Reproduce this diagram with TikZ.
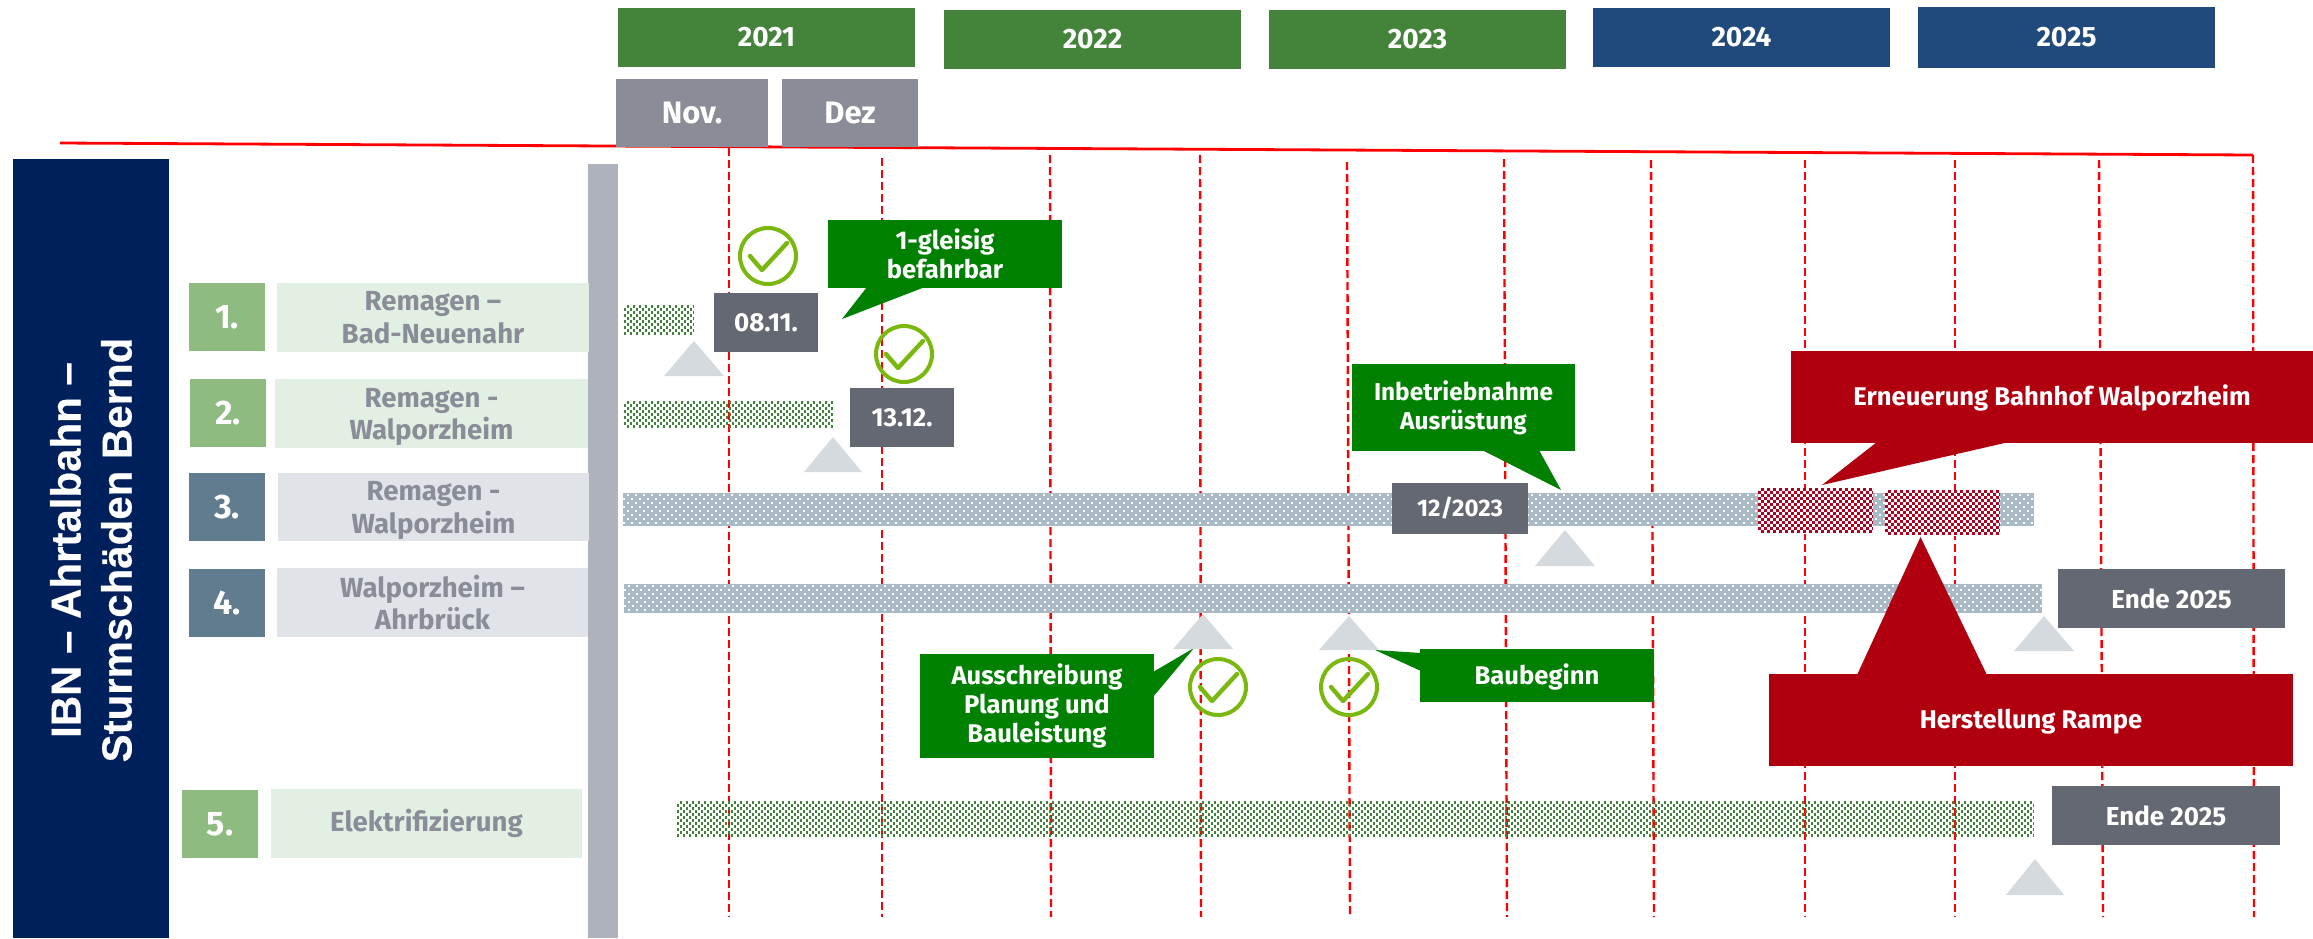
\documentclass[tikz,border=0pt]{standalone}
\usepackage{fontspec}
\setmainfont{Fira Sans}
\newfontfamily\titlefont[BoldFeatures={FakeBold=0.4}]{Liberation Sans}
\definecolor{yeargreen}{HTML}{43843A}
\definecolor{yearblue}{HTML}{20497C}
\definecolor{monthgray}{HTML}{8A8D98}
\definecolor{dategray}{HTML}{646872}
\definecolor{titleblue}{HTML}{00205C}
\definecolor{axisgray}{HTML}{AEB3BB}
\definecolor{numgreen}{HTML}{8DBB80}
\definecolor{labgreen}{HTML}{E2F0E4}
\definecolor{numblue}{HTML}{617C8F}
\definecolor{labgray}{HTML}{E0E4E8}
\definecolor{callgreen}{HTML}{008000}
\definecolor{callred}{HTML}{B00010}
\definecolor{trigray}{HTML}{D5DADF}
\definecolor{bargray}{HTML}{A9B9C5}
\definecolor{barred}{HTML}{B00020}
\definecolor{bargreen}{HTML}{3F8338}
\definecolor{checkgreen}{HTML}{7AB80F}
\tikzset{
  x=0.5pt,y=-0.5pt,
  plain/.style={rectangle,inner sep=0pt,outer sep=0pt,align=center,text=white,font=\bfseries},
  yeargr/.style={plain,fill=yeargreen,font=\fontsize{14}{16}\selectfont\bfseries},
  yearbl/.style={plain,fill=yearblue,font=\fontsize{14}{16}\selectfont\bfseries},
  monthbox/.style={plain,fill=monthgray,font=\fontsize{15.5}{18}\selectfont\bfseries},
  datebox/.style={plain,fill=dategray,font=\fontsize{13}{15}\selectfont\bfseries},
  numgr/.style={plain,fill=numgreen,font=\fontsize{17}{19}\selectfont\bfseries},
  numbl/.style={plain,fill=numblue,font=\fontsize{17}{19}\selectfont\bfseries},
  labgr/.style={plain,fill=labgreen,text=monthgray,font=\fontsize{13.8}{16.3}\selectfont\bfseries},
  labbl/.style={plain,fill=labgray,text=monthgray,font=\fontsize{13.8}{16.3}\selectfont\bfseries},
  labtext/.style={plain,text=monthgray,font=\fontsize{13.8}{16.3}\selectfont\bfseries},
  callg/.style={plain,fill=callgreen,font=\fontsize{12.8}{14.5}\selectfont\bfseries},
  callr/.style={plain,fill=callred,font=\fontsize{12.8}{14.5}\selectfont\bfseries},
  lowertext/.style={text height=8.6pt,text depth=0pt},
  barbase/.style={plain},
  barre/.style={plain,fill=white},
  bargy/.style={plain,fill=bargray},
  greenrows/.style={bargreen,line width=1.15pt},
  redrows/.style={barred,line width=1.3pt},
  gridline/.style={red,line width=1.2pt,dash pattern=on 4pt off 2pt},
  topline/.style={red,line width=1.4pt},
  checkring/.style={circle,draw=checkgreen,line width=2pt,fill=none,minimum size=28pt,inner sep=0pt},
  checkstroke/.style={checkgreen,line width=2.2pt,line cap=round,line join=round},
}
\newcommand{\bx}[7][plain]{%
  \pgfmathsetmacro{\cxv}{(#3+#5)/2}\pgfmathsetmacro{\cyv}{(#4+#6)/2}%
  \pgfmathsetmacro{\wv}{(#5-#3)/2}\pgfmathsetmacro{\hv}{(#6-#4)/2}%
  \node[#1,minimum width=\wv pt,minimum height=\hv pt] (#2) at (\cxv,\cyv) {#7};}
\newcommand{\tri}[4]{\fill[trigray] (#1,#3) -- (#2,#4) -- ({2*#2-#1},#3) -- cycle;}
\newcommand{\chkmark}[3]{%
  \node[checkring] (#1) at (#2,#3) {};
  \draw[checkstroke,shift={(#1.center)}] (-18,0) -- (-6,14) -- (19,-13);}
% rows of staggered squares: x0 y0 x1 y1 style on off
\newcommand{\chkrows}[7]{%
  \pgfmathsetmacro{\yfirst}{#2+1.5}\pgfmathsetmacro{\ysecond}{#2+4.5}\pgfmathsetmacro{\ylast}{#4-1}%
  \foreach \yy [count=\ii] in {\yfirst,\ysecond,...,\ylast}{%
    \pgfmathsetmacro{\ph}{mod(\ii,2)*(#6+#7)/2}%
    \draw[#5,dash pattern=on #6pt off #7pt,dash phase=\ph pt] (#1,\yy) -- (#3,\yy);
  }}
\newcommand{\dotrows}[4]{%
  \pgfmathtruncatemacro{\yfirst}{#2+2}\pgfmathtruncatemacro{\ysecond}{#2+6}\pgfmathtruncatemacro{\ylast}{#4-1}%
  \foreach \yy [count=\ii] in {\yfirst,\ysecond,...,\ylast}{%
    \pgfmathsetmacro{\ph}{mod(\ii,2)*2}%
    \draw[white,line width=1pt,dash pattern=on 1pt off 3pt,dash phase=\ph pt] (#1,\yy) -- (#3,\yy);
  }}
\begin{document}
\begin{tikzpicture}
\useasboundingbox (0,0) rectangle (2313,938);
% grid
\foreach \n/\a/\t/\b in {1/729/148/729,2/882/158/882,3/1050/155/1051,4/1200/155/1201,5/1347/162/1350,6/1504/159/1507,7/1651/160/1654,8/1805/160/1805,9/1955/160/1955,10/2099/160/2103,11/2253/155/2254}{
  \coordinate (gt\n) at (\a,\t);
  \coordinate (gb\n) at (\b,917);
  \draw[gridline] (gt\n) -- (gb\n);
}
\coordinate (ls) at (60,143);
\coordinate (le) at (2253,155);
\draw[topline] (ls) -- (le);
% years
\bx[yeargr]{y21}{618}{8}{915}{67}{2021}
\bx[yeargr]{y22}{944}{10}{1241}{69}{2022}
\bx[yeargr]{y23}{1269}{10}{1566}{69}{2023}
\bx[yearbl]{y24}{1593}{8}{1890}{67}{2024}
\bx[yearbl]{y25}{1918}{7}{2215}{68}{2025}
\bx[monthbox]{nov}{616}{79}{768}{147}{Nov.}
\bx[monthbox]{dez}{782}{79}{918}{147}{Dez}
% left
\bx[plain,fill=titleblue]{title}{13}{159}{169}{938}{}
\node[rotate=90,text=white,align=center,font=\titlefont\fontsize{21}{25.5}\selectfont\bfseries,inner sep=0pt] (titletext) at (91,550) {IBN – Ahrtalbahn –\\Sturmschäden Bernd};
\bx[plain,fill=axisgray]{axis}{588}{164}{618}{938}{}
\bx[numgr]{n1}{189}{283}{265}{351}{1.}
\bx[labgr]{l1}{277}{283}{589}{352}{Remagen –\\Bad-Neuenahr}
\bx[numgr]{n2}{190}{379}{266}{447}{2.}
\bx[labgr]{l2}{275}{379}{588}{448}{}
\node[labtext] (l2t) at (431.5,417) {Remagen -\\Walporzheim};
\bx[numbl]{n3}{189}{473}{265}{541}{3.}
\bx[labbl]{l3}{278}{473}{589}{541}{}
\node[labtext] (l3t) at (433.5,510.5) {Remagen -\\Walporzheim};
\bx[numbl]{n4}{189}{569}{265}{637}{4.}
\bx[labbl]{l4}{277}{568}{588}{637}{Walporzheim –\\Ahrbrück}
\bx[numgr]{n5}{182}{790}{258}{858}{5.}
\bx[labgr]{l5}{271}{789}{582}{858}{Elektrifizierung}
% bars
\bx[barbase]{b1}{624}{305}{694}{337}{}
\chkrows{624}{305}{694}{337}{greenrows}{1.1}{1.9}
\bx[barbase]{b2}{624}{401}{833}{428}{}
\chkrows{624}{401}{833}{428}{greenrows}{1.1}{1.9}
\bx[bargy]{b3}{623}{493}{2034}{526}{}
\dotrows{623}{493}{2034}{526}
\bx[bargy]{b4}{624}{584}{2042}{613}{}
\dotrows{624}{584}{2042}{613}
\bx[barbase]{b5}{677}{801}{2034}{837}{}
\chkrows{677}{801}{2034}{837}{greenrows}{1.1}{1.9}
\bx[barre]{r1}{1758}{488}{1873}{534}{}
\chkrows{1758}{488}{1873}{534}{redrows}{1.3}{1.7}
\bx[barre]{r2}{1885}{490}{2000}{536}{}
\chkrows{1885}{490}{2000}{536}{redrows}{1.3}{1.7}
% callout tails
\fill[callgreen] (867,287) -- (842,319) -- (925,287) -- cycle;
\fill[callgreen] (1482,450) -- (1561,490) -- (1539,450) -- cycle;
\fill[callred] (1877,442) -- (1822,485) -- (2009,442) -- cycle;
\fill[callgreen] (1153,672) -- (1194,648) -- (1153,697) -- cycle;
\fill[callgreen] (1421,653) -- (1375,650) -- (1421,671) -- cycle;
\fill[callred] (1857,675) -- (1920.5,537) -- (1987,675) -- cycle;
% triangles
\tri{664}{694}{376}{341}
\tri{804}{833}{472}{437}
\tri{1535}{1565}{566}{530}
\tri{1173}{1203}{649}{614}
\tri{1319}{1349}{650}{616}
\tri{2014}{2044}{651}{616}
\tri{2006}{2035}{895}{859}
% callouts
\bx[callg]{c1}{828}{220}{1062}{288}{1-gleisig\\befahrbar}
\bx[callg,font=\fontsize{12.2}{14.5}\selectfont\bfseries]{c2}{1352}{364}{1575}{451}{Inbetriebnahme\\Ausrüstung}
\bx[callr,lowertext]{c3}{1791}{351}{2313}{443}{Erneuerung Bahnhof Walporzheim}
\bx[callg]{c4}{920}{654}{1154}{758}{Ausschreibung\\Planung und\\Bauleistung}
\bx[callg,lowertext]{c5}{1420}{649}{1654}{702}{Baubeginn}
\bx[callr,lowertext]{c6}{1769}{674}{2293}{766}{Herstellung Rampe}
% date boxes
\bx[datebox]{d1}{714}{293}{818}{352}{08.11.}
\bx[datebox]{d2}{850}{388}{954}{447}{13.12.}
\bx[datebox,font=\fontsize{12}{15}\selectfont\bfseries]{d3}{1392}{483}{1528}{534}{12/2023}
\bx[datebox]{d4}{2058}{569}{2285}{628}{Ende 2025}
\bx[datebox]{d5}{2052}{786}{2280}{845}{Ende 2025}
% checks
\chkmark{k1}{768}{256}
\chkmark{k2}{904}{354}
\chkmark{k3}{1218}{687}
\chkmark{k4}{1349}{687}
\end{tikzpicture}
\end{document}
